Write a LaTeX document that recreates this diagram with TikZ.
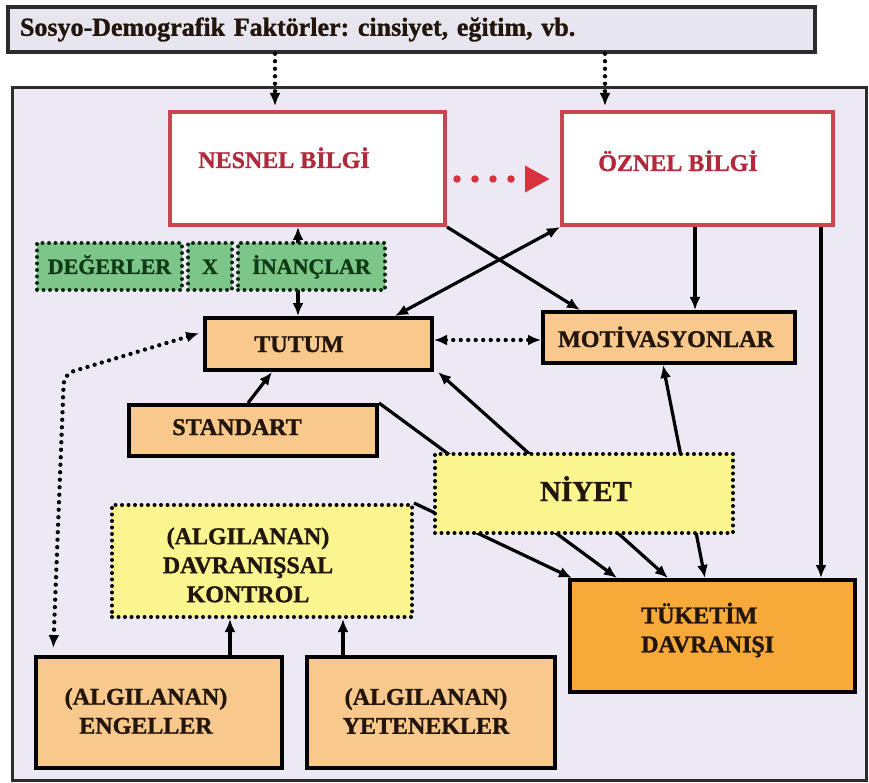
\documentclass[tikz,border=0pt]{standalone}
\usepackage{fontspec}
\setmainfont{Liberation Serif}[BoldFeatures={FakeBold=1.2}]
\usetikzlibrary{arrows.meta}
\definecolor{mainbg}{HTML}{ECE9F5}
\definecolor{topbg}{HTML}{E7E6EF}
\definecolor{redline}{HTML}{C8464E}
\definecolor{redtxt}{HTML}{B02A3C}
\definecolor{reddot}{HTML}{D8323E}
\definecolor{greenfill}{HTML}{7DC68A}
\definecolor{greentxt}{HTML}{0E3A14}
\definecolor{olight}{HTML}{F9C88C}
\definecolor{odark}{HTML}{F7A93A}
\definecolor{yfill}{HTML}{FBF590}
\definecolor{txtc}{HTML}{22160C}
\definecolor{frame}{HTML}{2C2C2C}
\frenchspacing
\begin{document}
\begin{tikzpicture}[x=1pt,y=-1pt,
  solidbox/.style={draw=black, line width=4pt, inner sep=0pt},
  obox/.style={solidbox, fill=olight},
  redbox/.style={draw=redline, line width=4pt, fill=white, inner sep=0pt},
  dotbox/.style={draw=black, line width=4pt, dash pattern=on 0pt off 6.5pt, line cap=round, inner sep=0pt},
  gbox/.style={dotbox, draw=greentxt!70!black, fill=greenfill, text=greentxt, font=\bfseries\fontsize{22}{26}\selectfont, text height=15pt, text depth=0pt},
  ybox/.style={dotbox, fill=yfill},
  txt/.style={font=\bfseries\fontsize{24}{29}\selectfont, text=txtc, inner sep=0pt},
  rtxt/.style={font=\bfseries\fontsize{24}{29}\selectfont, text=redtxt, inner sep=0pt},
  arr/.style={line width=3.2pt, -{Latex[length=13pt,width=11pt]}},
  darr/.style={line width=3.2pt, {Latex[length=13pt,width=11pt]}-{Latex[length=13pt,width=11pt]}},
  dotline/.style={line width=4.3pt, dash pattern=on 0pt off 7.5pt, line cap=round},
]
\useasboundingbox (0,0) rectangle (869,783);
\fill[white] (0,0) rectangle (869,783);

% frames
\node[draw=frame, line width=3pt, fill=mainbg, minimum width=854pt, minimum height=692pt, inner sep=0pt] (main) at (439,434) {};
\node[draw=frame, line width=3.5pt, fill=topbg, minimum width=807pt, minimum height=45pt, inner xsep=12pt, inner ysep=0pt, text width=783pt, align=left, font=\bfseries\fontsize{26}{30}\selectfont, text=txtc] (top) at (411.5,29.5) {Sosyo-Demografik Faktörler: cinsiyet, eğitim, vb.};

% boxes
\node[redbox, minimum width=275pt, minimum height=113pt] (nesnel) at (307.5,168.5) {};
\node[rtxt, anchor=base] (nesnelT) at (284,168) {NESNEL BİLGİ};
\node[redbox, minimum width=271pt, minimum height=113pt] (oznel) at (697.5,168.5) {};
\node[rtxt, anchor=base] (oznelT) at (678,171) {ÖZNEL BİLGİ};

\node[obox, minimum width=227pt, minimum height=52pt] (tutum) at (318.5,344) {};
\node[txt, anchor=base] (tutumT) at (299,352) {TUTUM};
\node[obox, minimum width=252pt, minimum height=51pt] (mot) at (669,337.5) {};
\node[txt, anchor=base] (motT) at (666,347) {MOTİVASYONLAR};
\node[obox, minimum width=248pt, minimum height=51pt] (standart) at (253,430.5) {};
\node[txt, anchor=base] (standartT) at (237,435) {STANDART};

\node[ybox, minimum width=300pt, minimum height=112pt] (davr) at (262,561) {};
\node[txt, align=center] (davrT) at (248,565) {(ALGILANAN)\\DAVRANIŞSAL\\KONTROL};

\node[obox, minimum width=246pt, minimum height=111pt] (engel) at (159,712.5) {};
\node[txt, align=center] (engelT) at (146,711) {(ALGILANAN)\\ENGELLER};
\node[obox, minimum width=248pt, minimum height=111pt] (yetenek) at (431,712.5) {};
\node[txt, align=center] (yetenekT) at (426,711) {(ALGILANAN)\\YETENEKLER};

\node[solidbox, fill=odark, minimum width=285pt, minimum height=112pt] (tuketim) at (712.5,636) {};
\node[txt, align=left, anchor=west] (tuketimT) at (641,630) {TÜKETİM\\DAVRANIŞI};

% connectors
\coordinate (bendA) at (64,374);
\draw[arr, dotline, shorten >=4pt] ([xshift=-136.5pt]top.south) -- ([xshift=-32.5pt]nesnel.north);
\draw[arr, dotline, shorten >=4pt] ([xshift=193.5pt]top.south) -- ([xshift=-92.5pt]oznel.north);
\draw[reddot, line width=7.5pt, dash pattern=on 0pt off 18pt, line cap=round, -{Triangle[length=25pt,width=25pt]}, shorten <=10pt, shorten >=10pt] ([yshift=-10.5pt]nesnel.east) -- ([yshift=-10.5pt]oznel.west);

\draw[darr] ([xshift=-9.5pt]nesnel.south) -- ([xshift=-20.5pt]tutum.north);
\draw[arr] (nesnel.south east) -- ([xshift=-89pt]mot.north);
\draw[darr] (oznel.south west) -- ([xshift=76.5pt]tutum.north);
\draw[arr] ([xshift=-2.5pt]oznel.south) -- ([xshift=26pt]mot.north);
\draw[arr] ([xshift=123.5pt]oznel.south) -- ([xshift=108.5pt]tuketim.north);
\draw[darr, dotline] ([yshift=4pt]tutum.east) -- ([yshift=-2.5pt]mot.west);
\draw[arr] ([xshift=-5pt]standart.north) -- ([xshift=-46.5pt]tutum.south);
\draw[darr] ([xshift=4pt]tutum.south east) -- ([xshift=-44.5pt]tuketim.north);
\draw[darr] ([xshift=-6pt]mot.south) -- ([xshift=-7.5pt]tuketim.north);
\draw[arr] (standart.north east) -- ([xshift=-95.5pt]tuketim.north);
\draw[arr] (davr.north east) -- ([xshift=-140.5pt]tuketim.north);
\draw[darr, dotline, rounded corners=10pt, shorten >=7pt, shorten <=4pt] ([yshift=12pt]tutum.west) -- (bendA) -- ([xshift=-106pt]engel.north);
\draw[arr] ([xshift=71pt]engel.north) -- ([xshift=-32pt]davr.south);
\draw[arr] ([xshift=-88pt]yetenek.north) -- ([xshift=81pt]davr.south);

% boxes drawn over the lines
\node[gbox, minimum width=145pt, minimum height=47pt] (deger) at (109.5,266.5) {DEĞERLER};
\node[gbox, minimum width=44pt, minimum height=47pt] (carpi) at (210,266.5) {X};
\node[gbox, minimum width=147pt, minimum height=47pt] (inanc) at (311.5,266.5) {İNANÇLAR};
\node[ybox, minimum width=298pt, minimum height=79pt] (niyet) at (584,493.5) {};
\node[txt, font=\bfseries\fontsize{29}{33}\selectfont, anchor=base] (niyetT) at (586,501) {NİYET};
\end{tikzpicture}
\end{document}
